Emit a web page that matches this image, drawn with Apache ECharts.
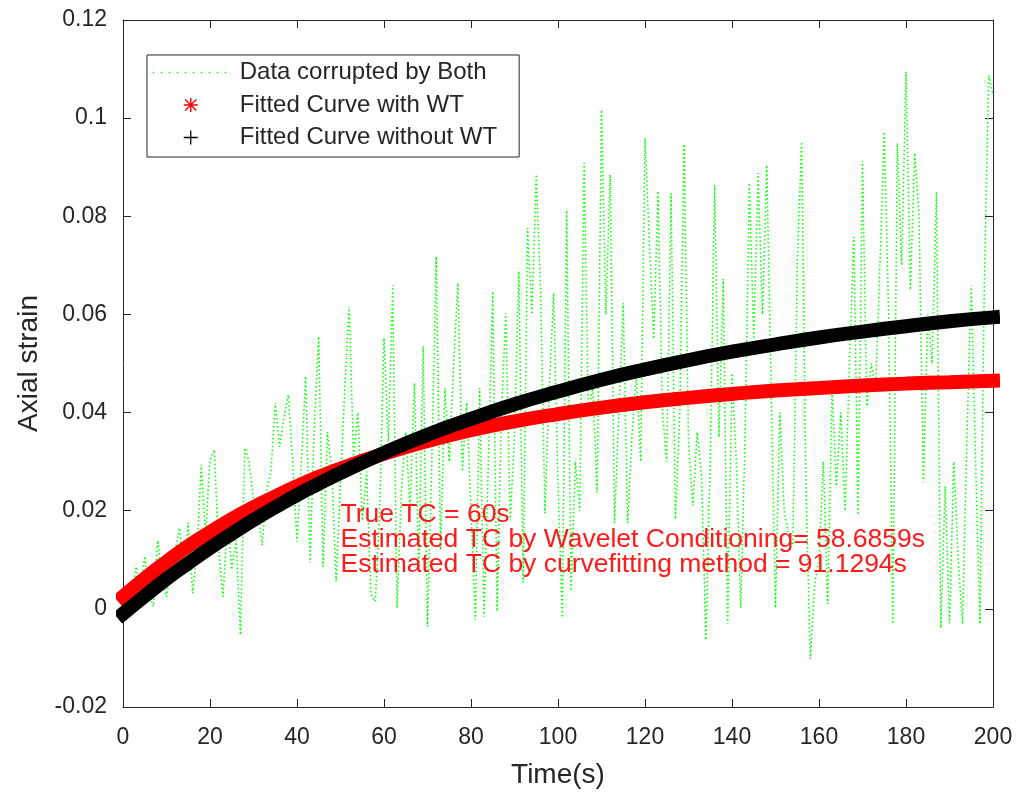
<!DOCTYPE html>
<html>
<head>
<meta charset="utf-8">
<title>Axial strain</title>
<script src="https://cdn.jsdelivr.net/npm/echarts@6.0.0/dist/echarts.min.js"></script>
<style>
  html, body { margin: 0; padding: 0; background: #fff; }
  #chart { width: 1020px; height: 796px; }
</style>
</head>
<body>
<div id="chart"></div>
<script>
// 带噪声的测量数据 (t = 0..200 s, 每秒一个点)
const noisyData = [
  0.001, 0.003, 0.0015, 0.0086, 0.004, 0.0107, 0.003, 0.0005, 0.0139, 0.006, 0.0025,
  0.009, 0.012, 0.0165, 0.007, 0.0176, 0.0032, 0.012, 0.0294, 0.015, 0.0304,
  0.0324, 0.012, 0.0025, 0.018, 0.008, 0.014, -0.0053, 0.0328, 0.030, 0.022,
  0.020, 0.013, 0.024, 0.028, 0.042, 0.033, 0.039, 0.0436, 0.030, 0.0137,
  0.030, 0.0474, 0.0094, 0.038, 0.0555, 0.0086, 0.036, 0.028, 0.0056, 0.026,
  0.045, 0.0616, 0.031, 0.040, 0.018, 0.028, 0.0029, 0.0015, 0.020, 0.0552,
  0.034, 0.066, 0.0002, 0.024, 0.036, 0.020, 0.046, 0.008, 0.0535, -0.0036,
  0.030, 0.0718, 0.012, 0.045, 0.030, 0.050, 0.0664, 0.028, 0.042, 0.020,
  -0.0022, 0.045, -0.0016, 0.030, 0.0647, -0.0005, 0.040, 0.0603, 0.018, 0.035,
  0.0688, 0.0053, 0.0776, 0.060, 0.0885, 0.065, 0.0195, 0.045, 0.0644, 0.025,
  -0.0018, 0.0812, 0.0037, 0.030, 0.020, 0.0909, 0.040, 0.045, 0.0237, 0.1017,
  0.060, 0.0885, 0.0175, 0.040, 0.0623, 0.0175, 0.035, 0.048, 0.030, 0.0959,
  0.075, 0.055, 0.0851, 0.040, 0.030, 0.0847, 0.0183, 0.040, 0.0947, 0.034,
  0.021, 0.036, 0.027, -0.0064, 0.030, 0.0864, 0.035, 0.0672, -0.003, 0.048,
  0.030, 0.0002, 0.035, 0.0868, 0.055, 0.0888, 0.060, 0.0904, 0.045, 0.0002,
  0.040, 0.020, 0.015, 0.013, 0.070, 0.0952, 0.025, -0.0102, 0.005, 0.010,
  0.030, 0.001, 0.045, 0.025, 0.040, 0.020, 0.050, 0.0758, 0.0191, 0.0913,
  0.0413, 0.050, 0.045, 0.070, 0.0972, 0.060, -0.0031, 0.0949, 0.070, 0.1095,
  0.065, 0.0929, 0.080, 0.0258, 0.060, 0.050, 0.085, -0.0039, 0.025, -0.003,
  0.030, 0.010, -0.0031, 0.035, 0.0659, 0.030, -0.0031, 0.0659, 0.1087, 0.105
]

// 拟合曲线读数
const fitTime = [0, 5, 10, 15, 20, 25, 30, 35, 40, 45, 50, 60, 70, 80, 90, 100, 110, 120, 130, 140, 150, 160, 170, 180, 190, 200]
const fitWithWT = [0.0025, 0.0062, 0.0096, 0.0128, 0.0156, 0.0183, 0.0207, 0.0229, 0.0250, 0.0269, 0.0286, 0.0316, 0.0342, 0.0364, 0.0382, 0.0397, 0.0410, 0.0421, 0.0430, 0.0438, 0.0445, 0.0450, 0.0455, 0.0459, 0.0462, 0.0465]
const fitWithoutWT = [-0.0010, 0.0026, 0.0061, 0.0093, 0.0124, 0.0153, 0.0181, 0.0207, 0.0232, 0.0255, 0.0277, 0.0318, 0.0355, 0.0387, 0.0417, 0.0443, 0.0467, 0.0488, 0.0507, 0.0524, 0.0539, 0.0553, 0.0565, 0.0576, 0.0586, 0.0594]

const seriesNames = ['Data corrupted by Both', 'Fitted Curve with WT', 'Fitted Curve without WT']
const noteLines = [
  'True TC = 60s',
  'Estimated TC by Wavelet Conditioning= 58.6859s',
  'Estimated TC by curvefitting method = 91.1294s'
]
const notePos = [50, 0.014]

const FONT = "'Liberation Sans', Arial, Helvetica, sans-serif"
const AXIS_COLOR = '#262626'

const asteriskPath = 'path://M9,0L11,0L11,20L9,20Z M0,9L20,9L20,11L0,11Z M2.7,1.3L18.7,17.3L17.3,18.7L1.3,2.7Z M17.3,1.3L18.7,2.7L2.7,18.7L1.3,17.3Z'
const plusPath = 'path://M9.1,0L10.9,0L10.9,20L9.1,20Z M0,9.1L20,9.1L20,10.9L0,10.9Z'

const toPairs = (xs, ys) => xs.map((x, i) => [x, ys[i]])

const myChart = echarts.init(document.getElementById('chart'))

const xAxisBase = {
  type: 'value',
  min: 0,
  max: 200,
  interval: 20,
  axisLine: { show: true, onZero: false, lineStyle: { color: AXIS_COLOR, width: 1 } },
  axisTick: { show: true, inside: true, length: 8, lineStyle: { color: AXIS_COLOR } },
  splitLine: { show: false }
}
const yAxisBase = {
  type: 'value',
  min: -0.02,
  max: 0.12,
  interval: 0.02,
  axisLine: { show: true, onZero: false, lineStyle: { color: AXIS_COLOR, width: 1 } },
  axisTick: { show: true, inside: true, length: 8, lineStyle: { color: AXIS_COLOR } },
  splitLine: { show: false }
}

myChart.setOption({
  animation: false,
  backgroundColor: '#fff',
  textStyle: { fontFamily: FONT },
  grid: {
    left: 123,
    right: 27,
    top: 20,
    bottom: 89,
    show: true,
    backgroundColor: '#fff',
    borderWidth: 0
  },
  legend: {
    orient: 'vertical',
    left: 147,
    top: 55,
    padding: [4, 22, 6, 5],
    itemWidth: 76,
    itemHeight: 14,
    itemGap: 5.5,
    itemTextGap: 12,
    selectedMode: false,
    backgroundColor: '#fff',
    borderColor: AXIS_COLOR,
    borderWidth: 1,
    textStyle: {
      fontFamily: FONT,
      fontSize: 24,
      color: AXIS_COLOR,
      lineHeight: 27,
      padding: [0, 0, 0, 6]
    },
    data: [
      {
        name: seriesNames[0],
        itemStyle: { opacity: 0 },
        lineStyle: { type: [1.5, 6.5], width: 1.5, color: '#00ff00' }
      },
      { name: seriesNames[1], icon: asteriskPath, itemStyle: { color: '#ff0000' } },
      { name: seriesNames[2], icon: plusPath, itemStyle: { color: '#000000' } }
    ]
  },
  xAxis: [
    {
      ...xAxisBase,
      position: 'bottom',
      name: 'Time(s)',
      nameLocation: 'middle',
      nameGap: 54,
      nameTextStyle: { fontFamily: FONT, fontSize: 28, color: AXIS_COLOR },
      axisLabel: { margin: 19, fontFamily: FONT, fontSize: 23, color: AXIS_COLOR }
    },
    { ...xAxisBase, position: 'top', axisLabel: { show: false } }
  ],
  yAxis: [
    {
      ...yAxisBase,
      position: 'left',
      name: 'Axial strain',
      nameLocation: 'middle',
      nameGap: 80,
      nameTextStyle: { fontFamily: FONT, fontSize: 28, color: AXIS_COLOR },
      axisLabel: {
        margin: 16,
        fontFamily: FONT,
        fontSize: 23,
        color: AXIS_COLOR,
        formatter: (v) => String(+v.toFixed(2))
      }
    },
    { ...yAxisBase, position: 'right', axisLabel: { show: false } }
  ],
  series: [
    {
      name: seriesNames[0],
      type: 'line',
      data: noisyData.map((v, i) => [i, v]),
      symbol: 'none',
      lineStyle: { color: '#00ff00', width: 1.5, type: [1.5, 2.5] },
      itemStyle: { color: '#00ff00' }
    },
    {
      name: seriesNames[1],
      type: 'line',
      data: toPairs(fitTime, fitWithWT),
      symbol: 'none',
      smooth: true,
      clip: false,
      lineStyle: { color: '#ff0000', width: 14, cap: 'square' },
      itemStyle: { color: '#ff0000' }
    },
    {
      name: seriesNames[2],
      type: 'line',
      data: toPairs(fitTime, fitWithoutWT),
      symbol: 'none',
      smooth: true,
      clip: false,
      lineStyle: { color: '#000000', width: 14, cap: 'square' },
      itemStyle: { color: '#000000' }
    }
  ]
})

// 图中注释文字
const notePixel = myChart.convertToPixel({ gridIndex: 0 }, notePos)
myChart.setOption({
  graphic: [
    {
      type: 'text',
      x: notePixel[0],
      y: notePixel[1],
      z: 100,
      style: {
        text: noteLines.join('\n'),
        fill: '#ff1a1a',
        font: '26.5px ' + FONT,
        lineHeight: 25,
        align: 'left',
        verticalAlign: 'middle'
      }
    }
  ]
})
</script>
</body>
</html>
